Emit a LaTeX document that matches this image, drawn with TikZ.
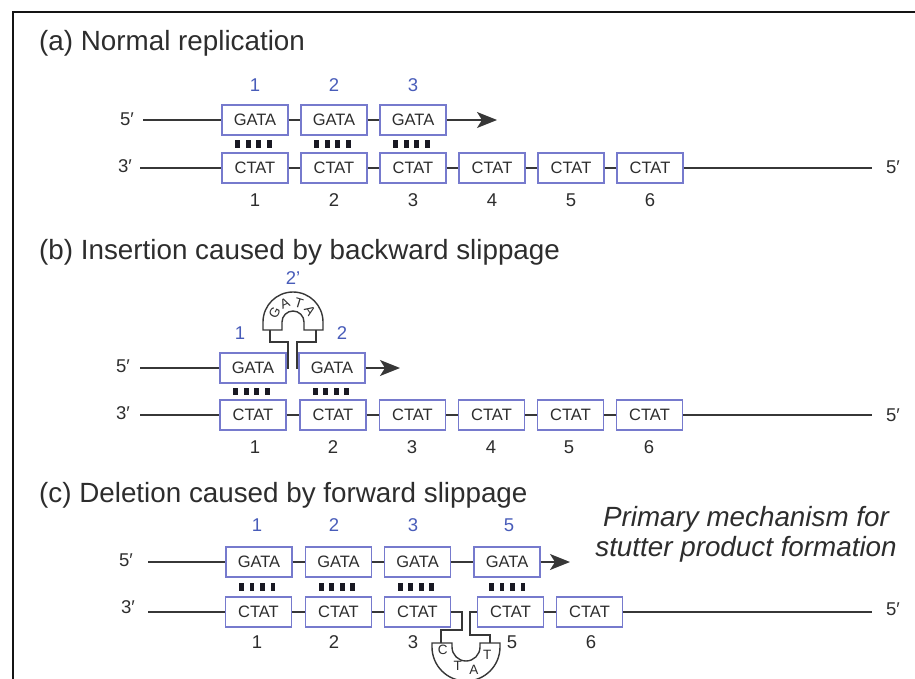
\documentclass[tikz,border=0pt]{standalone}
\usepackage{fontspec}
\setmainfont{Liberation Sans}
\usetikzlibrary{arrows.meta,calc}
\definecolor{strandc}{RGB}{55,55,55}
\definecolor{boxc}{RGB}{118,122,205}
\definecolor{numblue}{RGB}{72,92,185}
\definecolor{txtc}{RGB}{45,45,45}
\definecolor{pairc}{RGB}{25,25,35}
\definecolor{framec}{RGB}{20,20,20}

\begin{document}
\begin{tikzpicture}[x=1pt,y=-1pt,
  strandline/.style={line width=1.6pt, draw=strandc},
  loopline/.style={line width=1.4pt, draw=strandc},
  seqbox/.style={draw=boxc, line width=1.2pt, fill=white, minimum width=66pt,
    minimum height=30pt, inner sep=0pt, font=\fontsize{16.5}{16.5}\selectfont, text=txtc},
  endlab/.style={font=\fontsize{18.5}{18.5}\selectfont, text=txtc},
  topnum/.style={font=\fontsize{18.5}{18.5}\selectfont, text=numblue},
  botnum/.style={font=\fontsize{18.5}{18.5}\selectfont, text=txtc},
  titletext/.style={anchor=base west, font=\fontsize{27.8}{30}\selectfont, text=txtc, inner sep=0pt},
  notetext/.style={anchor=base, font=\fontsize{27.8}{30}\selectfont\itshape, text=txtc, inner sep=0pt},
  looptext/.style={font=\fontsize{13.5}{13.5}\selectfont, text=txtc, inner sep=0pt},
  tip/.style={-{Stealth[length=20pt,width=16pt,inset=5pt]}}
]
\useasboundingbox (0,0) rectangle (915,679);

% frame
\draw[framec, line width=1.5pt] (13,679) -- (13,12) -- (915,12);

% ---------------- (a) normal replication ----------------
\node[titletext] (ta) at (39,51) {(a) Normal replication};

\foreach \i/\x in {1/255,2/334,3/413}
  \node[seqbox] (aG\i) at (\x,120) {GATA};
\foreach \i/\x in {1/255,2/334,3/413,4/492,5/571,6/650}
  \node[seqbox] (aC\i) at (\x,168) {CTAT};

\foreach \i/\x in {1/255,2/334,3/413}
  \node[topnum] (aT\i) at (\x,85) {\i};
\foreach \i/\x in {1/255,2/334,3/413,4/492,5/571,6/650}
  \node[botnum] (aB\i) at (\x,200) {\i};

\node[endlab] (a5L) at (127,119) {5′};
\node[endlab] (a3L) at (125,166) {3′};
\node[endlab] (a5R) at (893,167) {5′};
\coordinate (aS1) at (143,120);
\coordinate (aS2) at (140,168);
\coordinate (aE2) at (872,168);
\coordinate (aTip) at (497,120);

\draw[strandline] (aS1) -- (aG1.west);
\draw[strandline] (aS2) -- (aC1.west);
\foreach \i/\j in {1/2,2/3} \draw[strandline] (aG\i.east) -- (aG\j.west);
\foreach \i/\j in {1/2,2/3,3/4,4/5,5/6} \draw[strandline] (aC\i.east) -- (aC\j.west);
\draw[strandline] (aC6.east) -- (aE2);
\draw[strandline,tip] (aG3.east) -- (aTip);

\foreach \i in {1,2,3}
  \foreach \d in {-15.75,-5.25,5.25,15.75}
    \fill[pairc] ($(aG\i.south)!.5!(aC\i.north)+(\d-1.5,0)$) +(-2.3,-3.8) rectangle +(2.3,3.8);

% ---------------- (b) backward slippage ----------------
\node[titletext] (tb) at (39,259) {(b) Insertion caused by backward slippage};

\foreach \i/\x in {1/253,2/332}
  \node[seqbox] (bG\i) at (\x,368) {GATA};
\foreach \i/\x in {1/253,2/333,3/412.5,4/491.5,5/570.5,6/649.5}
  \node[seqbox] (bC\i) at (\x,415) {CTAT};

\node[topnum] (bT1) at (240,333) {1};
\node[topnum] (bT2) at (342,333) {2};
\node[topnum] (bT3) at (293,278) {2'};
\foreach \i/\x in {1/255,2/333,3/412,4/491,5/569,6/649}
  \node[botnum] (bB\i) at (\x,447) {\i};

\node[endlab] (b5L) at (123,366) {5′};
\node[endlab] (b3L) at (123,413) {3′};
\node[endlab] (b5R) at (893,415) {5′};
\coordinate (bS1) at (140,368);
\coordinate (bS2) at (140,415);
\coordinate (bE2) at (872,415);
\coordinate (bTip) at (400,368);

\draw[strandline] (bS1) -- (bG1.west);
\draw[strandline] (bS2) -- (bC1.west);
\foreach \i/\j in {1/2,2/3,3/4,4/5,5/6} \draw[strandline] (bC\i.east) -- (bC\j.west);
\draw[strandline] (bC6.east) -- (bE2);
\draw[strandline,tip] (bG2.east) -- (bTip);

\foreach \i in {1,2}
  \foreach \d in {-15.75,-5.25,5.25,15.75}
    \fill[pairc] ($(bG\i.south)!.5!(bC\i.north)+(\d-1.5,0)$) +(-2.3,-3.8) rectangle +(2.3,3.8);

% looped-out repeat above the new strand
\begin{scope}[shift={(293,322)}, x=1pt, y=1pt]
  \filldraw[loopline, fill=white] (-30,-8) -- (-30,0)
      arc[start angle=180, end angle=0, radius=30] -- (30,-8) -- (11,-8) -- (11,0)
      arc[start angle=0, end angle=180, radius=11] -- (-11,-8) -- cycle;
  \coordinate (bL1) at (-5,-20);
  \coordinate (bL2) at (-23,-20);
  \coordinate (bL3) at (-23,-8);
  \coordinate (bR1) at (4,-20);
  \coordinate (bR2) at (23,-20);
  \coordinate (bR3) at (23,-8);
  \node[looptext, rotate=63]  (bq1) at (153:20.5) {G};
  \node[looptext, rotate=24]  (bq2) at (114:20) {A};
  \node[looptext, rotate=-17] (bq3) at (73:20) {T};
  \node[looptext, rotate=-56] (bq4) at (34:20.5) {A};
\end{scope}
\draw[loopline] (bG1.east) -| (bL1) -- (bL2) -- (bL3);
\draw[loopline] (bG2.west) -| (bR1) -- (bR2) -- (bR3);

% ---------------- (c) forward slippage ----------------
\node[titletext] (tc) at (39,502) {(c) Deletion caused by forward slippage};

\foreach \i/\x in {1/259,2/338.5,3/417.5,4/507}
  \node[seqbox] (cG\i) at (\x,562) {GATA};
\foreach \i/\x in {1/258.5,2/338.5,3/417.5,5/510.5,6/589.5}
  \node[seqbox] (cC\i) at (\x,612) {CTAT};

\node[topnum] (cT1) at (257,525) {1};
\node[topnum] (cT2) at (334,525) {2};
\node[topnum] (cT3) at (413,525) {3};
\node[topnum] (cT4) at (509,525) {5};
\foreach \i/\x in {1/257,2/334,3/413,5/512,6/591}
  \node[botnum] (cB\i) at (\x,642) {\i};

\node[endlab] (c5L) at (126,560) {5′};
\node[endlab] (c3L) at (128,607) {3′};
\node[endlab] (c5R) at (893,609) {5′};
\coordinate (cS1) at (148,562);
\coordinate (cS2) at (148,612);
\coordinate (cE2) at (872,612);
\coordinate (cTip) at (570,562);

\draw[strandline] (cS1) -- (cG1.west);
\draw[strandline] (cS2) -- (cC1.west);
\foreach \i/\j in {1/2,2/3,3/4} \draw[strandline] (cG\i.east) -- (cG\j.west);
\foreach \i/\j in {1/2,2/3,5/6} \draw[strandline] (cC\i.east) -- (cC\j.west);
\draw[strandline] (cC6.east) -- (cE2);
\draw[strandline,tip] (cG4.east) -- (cTip);

\foreach \i/\j in {1/1,2/2,3/3,4/5}
  \foreach \d in {-15.75,-5.25,5.25,15.75}
    \fill[pairc] ($(cG\i.south)!.5!(cC\j.north)+(\d-1.5,0)$) +(-2.3,-3.8) rectangle +(2.3,3.8);

% looped-out repeat below the template strand
\begin{scope}[shift={(466,647)}, x=1pt, y=1pt]
  \filldraw[loopline, fill=white] (-34,4) -- (-34,0)
      arc[start angle=180, end angle=360, radius=34] -- (34,4) -- (14,4) -- (14,0)
      arc[start angle=360, end angle=180, radius=14] -- (-14,4) -- cycle;
  \coordinate (cL1) at (-4,17);
  \coordinate (cL2) at (-25,17);
  \coordinate (cL3) at (-25,4);
  \coordinate (cR1) at (4,12);
  \coordinate (cR2) at (24,12);
  \coordinate (cR3) at (24,4);
  \node[looptext] (cq1) at (188:23.5) {C};
  \node[looptext] (cq2) at (247:21) {T};
  \node[looptext] (cq3) at (289:24.5) {A};
  \node[looptext] (cq4) at (340:22.5) {T};
\end{scope}
\draw[loopline] (cC3.east) -| (cL1) -- (cL2) -- (cL3);
\draw[loopline] (cC5.west) -| (cR1) -- (cR2) -- (cR3);

\node[notetext] (n1) at (746,526) {Primary mechanism for};
\node[notetext] (n2) at (746,556) {stutter product formation};
\end{tikzpicture}
\end{document}
